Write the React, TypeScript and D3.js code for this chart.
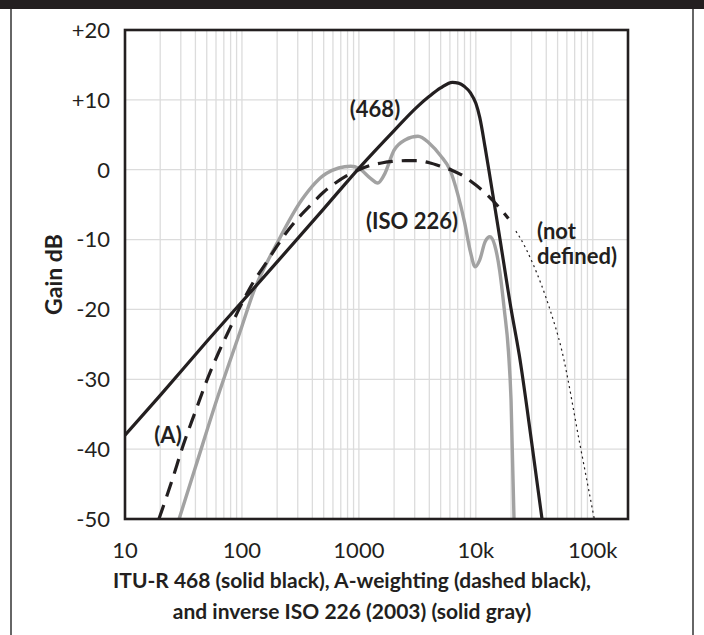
import React, { useEffect, useRef } from "react";
import * as d3 from "d3";

// tick values and labels
const freqTicks = [10, 100, 1000, 10000, 100000];
const freqLabels = ["10", "100", "1000", "10k", "100k"];
const gainTicks = [20, 10, 0, -10, -20, -30, -40, -50];
const gainLabels = ["+20", "+10", "0", "-10", "-20", "-30", "-40", "-50"];

// ITU-R 468 (solid black)
const itu468Freq = [10, 20, 50, 100, 200, 500, 1000, 2000, 3150, 4000, 5000, 6300, 7100, 8000, 9000, 10000, 10800, 12000, 13200, 16000, 20000, 23500, 30000, 36800];
const itu468Gain = [-38, -32.3, -24.6, -18.9, -13.2, -5.6, 0.2, 5.6, 9.0, 10.5, 11.7, 12.5, 12.4, 11.9, 11.0, 9.5, 7.5, 3.2, -1.0, -9.7, -19.9, -26.5, -39, -50];

// A-weighting (dashed black)
const aWeightFreq = [19.5, 25, 31.5, 40, 50, 63, 80, 100, 125, 160, 200, 250, 315, 400, 500, 630, 800, 1000, 1250, 1600, 2000, 2500, 3150, 4000, 5000, 6300, 8000, 10000, 12500, 16000, 19000];
const aWeightGain = [-50, -44.7, -39.4, -34.6, -30.2, -26.2, -22.5, -19.1, -16.1, -13.4, -10.9, -8.6, -6.6, -4.8, -3.2, -1.9, -0.8, 0, 0.6, 1.0, 1.2, 1.3, 1.3, 1.0, 0.5, -0.1, -1.0, -2.2, -3.6, -5.5, -7.0];

// A-weighting beyond 20k (dotted, not defined)
const notDefFreq = [22000, 23600, 31000, 43000, 54000, 78000, 103000];
const notDefGain = [-8.8, -9.6, -13.6, -20, -25.7, -39.5, -50];

// inverse ISO 226 (2003) (solid gray)
const isoFreq = [29, 40, 61, 100, 125, 200, 325, 530, 850, 1000, 1250, 1450, 1650, 2000, 2500, 3200, 4000, 5000, 6000, 7000, 8000, 9000, 9850, 10800, 12000, 13200, 14500, 16000, 17500, 19000, 20000, 21200];
const isoGain = [-50, -42.6, -32.9, -22.4, -17.6, -10.5, -4.3, -0.5, 0.5, 0.2, -1.2, -1.9, -0.7, 2.8, 4.3, 4.8, 3.8, 2.0, 0, -3.5, -7.5, -11.8, -13.9, -12.9, -10.3, -9.6, -10.8, -14.5, -20, -26, -33, -50];

const zip = (f: number[], g: number[]) => f.map((v, i) => [v, g[i]] as [number, number]);

const App = () => {
  const svgRef = useRef<SVGSVGElement>(null);

  useEffect(() => {
    const width = 704;
    const height = 635;
    const left = 125, right = 628, top = 30, bottom = 519;
    const ink = "#231f20";
    const font = "Lato, 'Open Sans', sans-serif";

    const svg = d3.select(svgRef.current).attr("width", width).attr("height", height);
    svg.selectAll("*").remove();

    svg.append("rect").attr("width", width).attr("height", height).attr("fill", "#fff");
    // top bar and side rules
    svg.append("rect").attr("x", 0).attr("y", 0).attr("width", width).attr("height", 9).attr("fill", ink);
    svg.append("line").attr("x1", 11).attr("x2", 11).attr("y1", 9).attr("y2", height).attr("stroke", "#333").attr("stroke-width", 1.5);
    svg.append("line").attr("x1", 693).attr("x2", 693).attr("y1", 9).attr("y2", height).attr("stroke", "#333").attr("stroke-width", 1.5);

    const x = d3.scaleLog().domain([10, 200000]).range([left, right]);
    const y = d3.scaleLinear().domain([-50, 20]).range([bottom, top]);

    // grid
    const minor: number[] = [];
    for (let d = 10; d <= 100000; d *= 10) {
      for (let m = 1; m <= 9; m++) {
        const f = d * m;
        if (f > 10 && f < 200000) minor.push(f);
      }
    }
    const grid = svg.append("g").attr("stroke", "#dcdcdc").attr("stroke-width", 1.3);
    grid.selectAll("line.v").data(minor).join("line").attr("class", "v")
      .attr("x1", (d) => x(d)).attr("x2", (d) => x(d)).attr("y1", top).attr("y2", bottom);
    grid.selectAll("line.h").data(gainTicks).join("line").attr("class", "h")
      .attr("x1", left).attr("x2", right).attr("y1", (d) => y(d)).attr("y2", (d) => y(d));

    const clip = svg.append("clipPath").attr("id", "plotclip");
    clip.append("rect").attr("x", left).attr("y", top).attr("width", right - left).attr("height", bottom - top);

    const line = d3.line<[number, number]>()
      .x((d) => x(d[0]))
      .y((d) => y(d[1]))
      .curve(d3.curveMonotoneX);

    const curves = svg.append("g").attr("clip-path", "url(#plotclip)").attr("fill", "none");
    curves.append("path").datum(zip(isoFreq, isoGain)).attr("d", line)
      .attr("stroke", "#a2a2a2").attr("stroke-width", 3.4);
    curves.append("path").datum(zip(notDefFreq, notDefGain)).attr("d", line)
      .attr("stroke", ink).attr("stroke-width", 1.2).attr("stroke-dasharray", "2,3.5");
    curves.append("path").datum(zip(aWeightFreq, aWeightGain)).attr("d", line)
      .attr("stroke", ink).attr("stroke-width", 3.2).attr("stroke-dasharray", "15,9");
    curves.append("path").datum(zip(itu468Freq, itu468Gain)).attr("d", line)
      .attr("stroke", ink).attr("stroke-width", 3.2);

    // frame
    svg.append("rect").attr("x", left).attr("y", top).attr("width", right - left).attr("height", bottom - top)
      .attr("fill", "none").attr("stroke", ink).attr("stroke-width", 2.6);

    // tick labels
    svg.append("g").selectAll("text").data(gainTicks).join("text")
      .attr("x", 110).attr("y", (d) => y(d)).attr("dy", "0.36em")
      .attr("text-anchor", "end").attr("font-family", font).attr("font-size", 22).attr("fill", ink)
      .text((d, i) => gainLabels[i]);
    svg.append("g").selectAll("text").data(freqTicks).join("text")
      .attr("x", (d) => x(d)).attr("y", 558)
      .attr("text-anchor", "middle").attr("font-family", font).attr("font-size", 22).attr("fill", ink)
      .text((d, i) => freqLabels[i]);

    // axis title
    svg.append("text").attr("transform", `translate(62,${(top + bottom) / 2}) rotate(-90)`)
      .attr("text-anchor", "middle").attr("font-family", font).attr("font-size", 23).attr("font-weight", "bold").attr("fill", ink)
      .text("Gain dB");

    // curve labels
    const labels = [
      { t: "(468)", x: 375, y: 117, a: "middle" },
      { t: "(ISO 226)", x: 412, y: 229, a: "middle" },
      { t: "(not", x: 537, y: 239, a: "start" },
      { t: "defined)", x: 537, y: 264, a: "start" },
      { t: "(A)", x: 168, y: 443, a: "middle" },
    ];
    svg.append("g").selectAll("text").data(labels).join("text")
      .attr("x", (d) => d.x).attr("y", (d) => d.y).attr("text-anchor", (d) => d.a)
      .attr("font-family", font).attr("font-size", 22).attr("font-weight", "bold").attr("fill", ink)
      .text((d) => d.t);

    // caption
    svg.append("text").attr("x", width / 2).attr("y", 588).attr("text-anchor", "middle")
      .attr("font-family", font).attr("font-size", 21).attr("font-weight", "bold").attr("fill", ink)
      .text("ITU-R 468 (solid black), A-weighting (dashed black),");
    svg.append("text").attr("x", width / 2).attr("y", 619).attr("text-anchor", "middle")
      .attr("font-family", font).attr("font-size", 21).attr("font-weight", "bold").attr("fill", ink)
      .text("and inverse ISO 226 (2003) (solid gray)");
  }, []);

  return <svg ref={svgRef} style={{ position: "absolute", left: 0, top: 0, display: "block" }}></svg>;
};

export default App;
